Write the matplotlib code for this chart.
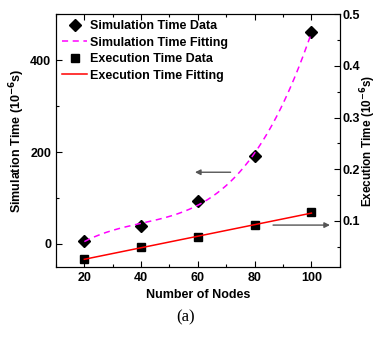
import numpy as np
from matplotlib import pyplot as plt
from matplotlib.ticker import MultipleLocator

plt.rcParams['font.family'] = ['Liberation Sans', 'DejaVu Sans']
plt.rcParams['font.weight'] = 'bold'
plt.rcParams['font.size'] = 9
plt.rcParams['mathtext.default'] = 'bf'

nodes = [20, 40, 60, 80, 100]
sim_time = [6.5, 39, 93, 192, 461]            # 10^-6 s, left axis
exec_time = [0.0265, 0.049, 0.068, 0.0917, 0.1168]  # 10^-6 s, right axis

# fitting curves from the data
xf = np.linspace(20, 100, 200)
sim_fit = np.polyval(np.polyfit(nodes, sim_time, 3), xf)
exec_fit = np.polyval(np.polyfit(nodes, exec_time, 1), xf)

fig = plt.figure(figsize=(3.78, 3.37), dpi=100)
ax = fig.add_axes([0.148, 0.208, 0.751, 0.75])
ax2 = ax.twinx()

h1, = ax.plot(nodes, sim_time, 'D', color='black', markersize=6, label='Simulation Time Data')
h2, = ax.plot(xf, sim_fit, '--', color='#ff00ff', linewidth=1.1, dashes=(4, 3), label='Simulation Time Fitting')
h3, = ax2.plot(nodes, exec_time, 's', color='black', markersize=6, label='Execution Time Data')
h4, = ax2.plot(xf, exec_fit, '-', color='red', linewidth=1.1, label='Execution Time Fitting')

ax.set_xlim(10, 110)
ax.set_ylim(-50, 500)
ax2.set_ylim(0.011, 0.5)

ax.xaxis.set_major_locator(MultipleLocator(20))
ax.xaxis.set_minor_locator(MultipleLocator(10))
ax.yaxis.set_major_locator(MultipleLocator(200))
ax.yaxis.set_minor_locator(MultipleLocator(100))
ax2.yaxis.set_major_locator(MultipleLocator(0.1))
ax2.yaxis.set_minor_locator(MultipleLocator(0.05))

ax.tick_params(which='both', direction='in', top=True, right=False, width=0.8)
ax.tick_params(which='major', length=4)
ax.tick_params(which='minor', length=2.5)
ax2.tick_params(which='both', direction='in', width=0.8, pad=2)
ax2.tick_params(which='major', length=4)
ax2.tick_params(which='minor', length=2.5)
for a in (ax, ax2):
    for s in a.spines.values():
        s.set_linewidth(0.8)

ax.set_xlabel('Number of Nodes', fontweight='bold')
ax.set_ylabel('Simulation Time (10$^{-6}$s)', fontweight='bold', labelpad=2)
ax2.set_ylabel('Execution Time (10$^{-6}$s)', fontweight='bold', fontsize=8.5, labelpad=-1)

# arrows pointing to the matching axes
ax.annotate('', xy=(58, 156), xytext=(72.5, 156),
            arrowprops=dict(arrowstyle='-|>', color='#555555', lw=1, mutation_scale=8))
ax.annotate('', xy=(107.5, 41), xytext=(85.5, 41),
            arrowprops=dict(arrowstyle='-|>', color='#555555', lw=1, mutation_scale=8))

ax.legend(handles=[h1, h2, h3, h4], loc='upper left', frameon=False,
          handlelength=2.0, handletextpad=0.2, labelspacing=0.35,
          borderaxespad=0.2, borderpad=0.3)

fig.text(0.49, 0.045, '(a)', family='Liberation Serif', fontweight='normal', fontsize=12, ha='center')

fig.savefig('out.png', dpi=100)
